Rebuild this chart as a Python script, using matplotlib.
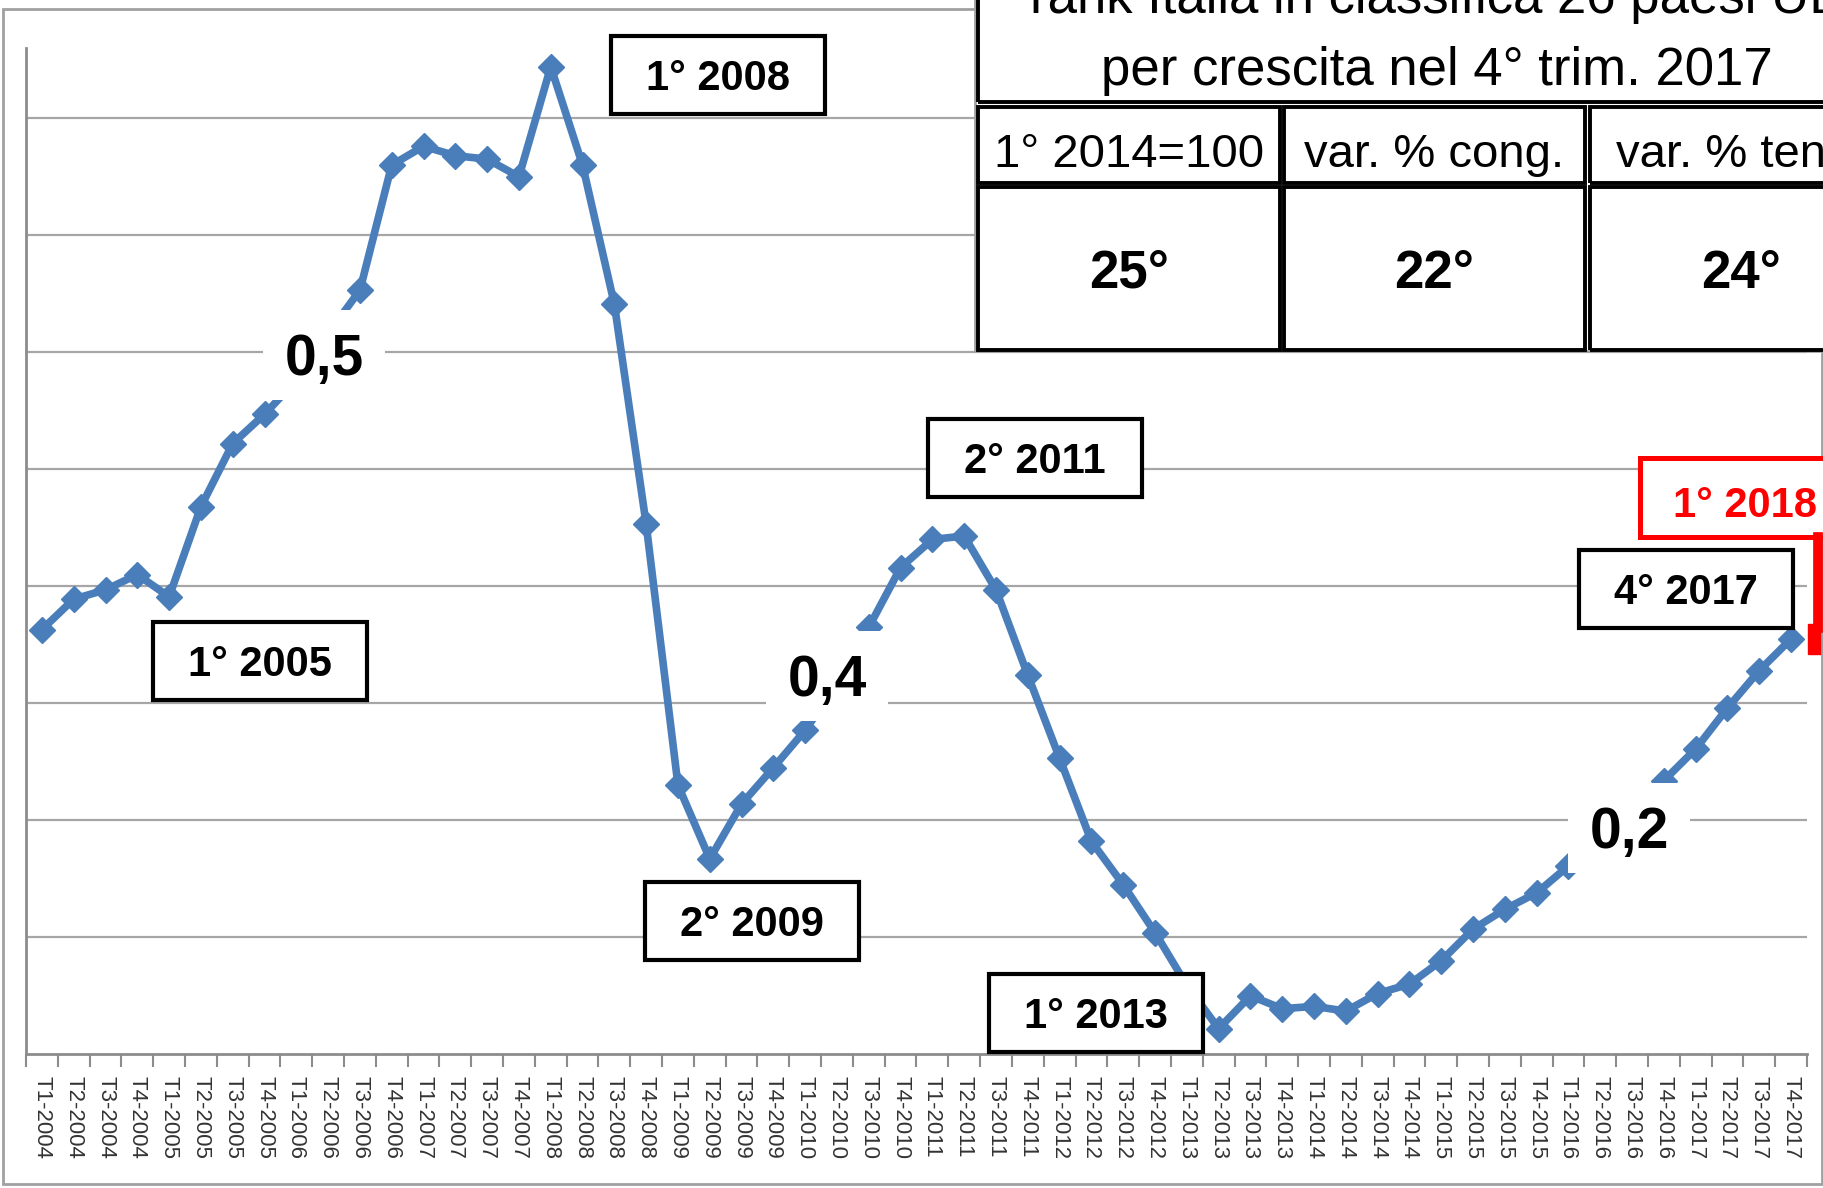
import numpy as np
import matplotlib
matplotlib.use('Agg')
import matplotlib.pyplot as plt
from matplotlib.patches import Rectangle
from matplotlib.lines import Line2D

plt.rcParams['font.family'] = ['Liberation Sans', 'DejaVu Sans']

W, H = 1824, 1188

# trimestri T1-2004 ... T4-2017
quarters = ['T%d-%d' % (q, y) for y in range(2004, 2018) for q in range(1, 5)]

# indice PIL (1° 2014 ~ 100)
pil = [103.22, 103.48, 103.56, 103.69, 103.50, 104.27, 104.81, 105.06,
       105.35, 105.75, 106.12, 107.19, 107.35, 107.27, 107.24, 107.09,
       108.03, 107.19, 106.00, 104.12, 101.89, 101.26, 101.73, 102.04,
       102.36, 102.75, 103.24, 103.75, 103.99, 104.02, 103.56, 102.83,
       102.12, 101.41, 101.04, 100.63, 100.18, 99.81, 100.09, 99.98,
       100.00, 99.96, 100.11, 100.19, 100.39, 100.66, 100.83, 100.97,
       101.20, 101.45, 101.70, 101.93, 102.20, 102.55, 102.87, 103.14]

# punto stimato 1° 2018
next_x = [56]
next_val = [103.14]

# etichette con riquadro
box_labels = ['1° 2008', '1° 2005', '2° 2011', '2° 2009', '1° 2013', '4° 2017']
big_labels = ['0,5', '0,4', '0,2']

# tabella
table_title = ['rank Italia in classifica 26 paesi UE', 'per crescita nel 4° trim. 2017']
table_head = ['1° 2014=100', 'var. % cong.', 'var. % tend.']
table_rank = ['25°', '22°', '24°']

BLUE = '#4a7ebb'
GRID = '#a6a6a6'


def fx(x):
    return x / W


def fy(y):
    return 1 - y / H


def rect(x0, y0, x1, y1, **kw):
    r = Rectangle((fx(x0), fy(y1)), (x1 - x0) / W, (y1 - y0) / H,
                  transform=fig.transFigure, **kw)
    fig.add_artist(r)
    return r


def txt(x, y, s, **kw):
    fig.text(fx(x), fy(y), s, ha='center', va='baseline', **kw)


fig = plt.figure(figsize=(W / 100, H / 100), dpi=100)

# cornice esterna del grafico
rect(3, 9, 1822, 1184, facecolor='none', edgecolor='#a0a0a0', lw=2, zorder=0.5)

ax = fig.add_axes([fx(26), fy(1054), (1807 - 26) / W, (1054 - 48) / H])
ax.set_facecolor('none')
x = np.arange(len(pil))
ax.plot(x, pil, color=BLUE, lw=5.5, marker='D', ms=13, zorder=3)
ax.plot(next_x, next_val, marker='s', ms=21, color='red', ls='none',
        clip_on=False, zorder=4)

ymin, ymax = 99.593, 108.19
ax.set_ylim(ymin, ymax)
ax.set_xlim(-0.5, len(pil) - 0.5)
ax.set_yticks(ymin + np.arange(1, 9))
ax.yaxis.grid(True, color=GRID, lw=1.6)
ax.tick_params(axis='y', length=0, labelleft=False)

ax.set_xticks(x)
ax.set_xticklabels(quarters, rotation=270, fontsize=16, color='#333333')
ax.set_xticks(np.arange(-0.5, len(pil)), minor=True)
ax.tick_params(axis='x', which='major', length=0, pad=16)
ax.tick_params(axis='x', which='minor', length=9.5, width=1.5, color='#8c8c8c')

for s in ['top', 'right']:
    ax.spines[s].set_visible(False)
for s in ['left', 'bottom']:
    ax.spines[s].set_color('#8c8c8c')
    ax.spines[s].set_linewidth(2)

# etichette nere con riquadro
box_pos = [(718, 75), (260, 661), (1035, 458), (752, 921), (1096, 1013), (1686, 589)]
for lab, (cx, cy) in zip(box_labels, box_pos):
    rect(cx - 107, cy - 39, cx + 107, cy + 39, facecolor='white',
         edgecolor='black', lw=3, zorder=6)
    txt(cx, cy + 15, lab, fontsize=30, fontweight='bold', color='black', zorder=7)

# etichette 0,x su fondo bianco
big_pos = [(324, 355), (827, 676), (1629, 828)]
for lab, (cx, cy) in zip(big_labels, big_pos):
    rect(cx - 61, cy - 45, cx + 61, cy + 45, facecolor='white',
         edgecolor='none', zorder=6)
    txt(cx, cy + 20, lab, fontsize=41, fontweight='bold', color='black', zorder=7)

# riquadro rosso 1° 2018 con linea verso il punto
rect(1640, 458, 1900, 537, facecolor='white', edgecolor='red', lw=3.6, zorder=6)
txt(1745, 517, '1° 2018', fontsize=30, fontweight='bold', color='red', zorder=7)
fig.add_artist(Line2D([fx(1818), fx(1818)], [fy(537), fy(628)], color='red',
                      lw=7, transform=fig.transFigure, zorder=6))

# tabella in alto a destra
rect(975, -20, 1840, 351, facecolor='white', edgecolor='#a0a0a0', lw=2, zorder=8)
rect(978, -60, 1900, 102, facecolor='none', edgecolor='black', lw=2.8, zorder=9)
txt(1437, 13, table_title[0], fontsize=38, color='black', zorder=9)
txt(1437, 85, table_title[1], fontsize=38, color='black', zorder=9)
cols = [(978, 1280), (1284, 1585), (1590, 1892)]
for (c0, c1), head, rank in zip(cols, table_head, table_rank):
    rect(c0, 107, c1, 183, facecolor='none', edgecolor='black', lw=2.8, zorder=9)
    rect(c0, 187, c1, 350, facecolor='none', edgecolor='black', lw=2.8, zorder=9)
    txt((c0 + c1) / 2, 167, head, fontsize=34, color='black', zorder=9)
    txt((c0 + c1) / 2, 288, rank, fontsize=38, fontweight='bold', color='black', zorder=9)

fig.savefig('out.png', dpi=100)
